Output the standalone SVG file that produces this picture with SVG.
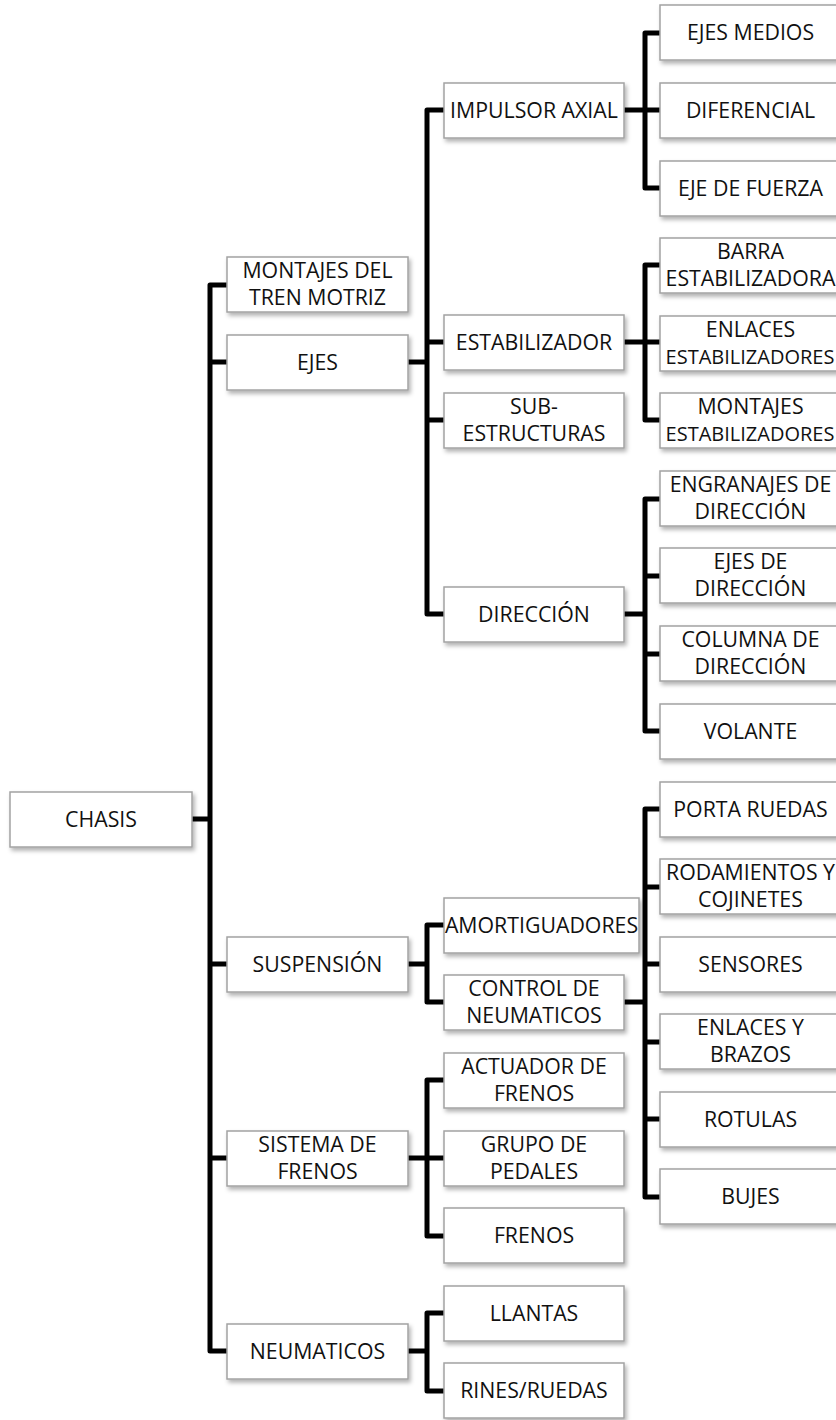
<svg xmlns="http://www.w3.org/2000/svg" width="836" height="1420" viewBox="0 0 836 1420">
<style>
.bx{fill:#fff;stroke:#a3a3a3;stroke-width:1.5;filter:url(#sh)}
.t{font-family:"Open Sans","Noto Sans",sans-serif;font-size:21.3px;fill:#111;text-anchor:middle}
.s{font-size:20px}
.c{fill:none;stroke:#000;stroke-width:5;stroke-linejoin:round}
</style>
<defs>
<filter id="sh" x="-10%" y="-20%" width="130%" height="160%">
<feDropShadow dx="2" dy="3" stdDeviation="2" flood-color="#000" flood-opacity="0.3"/>
</filter>
</defs>
<rect width="836" height="1420" fill="#fff"/>
<g id="connectors">
<path class="c" d="M192,819 H210"/>
<path class="c" d="M227,285 H210 V1351 H227"/>
<path class="c" d="M210,362 H227 M210,964 H227 M210,1158 H227"/>
<path class="c" d="M408,362 H427"/>
<path class="c" d="M444,110 H427 V614 H444 M427,342 H444 M427,420 H444"/>
<path class="c" d="M408,964 H427"/>
<path class="c" d="M444,925 H427 V1002 H444"/>
<path class="c" d="M408,1158 H427"/>
<path class="c" d="M444,1080 H427 V1236 H444 M427,1158 H444"/>
<path class="c" d="M408,1351 H427"/>
<path class="c" d="M444,1313 H427 V1391 H444"/>
<path class="c" d="M624,110 H645"/>
<path class="c" d="M660,33 H645 V188 H660 M645,110 H660"/>
<path class="c" d="M624,342 H645"/>
<path class="c" d="M660,265 H645 V420 H660 M645,342 H660"/>
<path class="c" d="M624,614 H645"/>
<path class="c" d="M660,499 H645 V731 H660 M645,576 H660 M645,654 H660"/>
<path class="c" d="M624,1002 H645"/>
<path class="c" d="M660,809 H645 V1197 H660 M645,887 H660 M645,964 H660 M645,1042 H660 M645,1119 H660"/>
</g>
<g id="chasis"><rect class="bx" x="10" y="792" width="182" height="55"/><text class="t" x="101" y="826.5">CHASIS</text></g>
<g id="montajes-tren"><rect class="bx" x="227" y="257" width="181" height="55"/><text class="t" x="317.5" y="278">MONTAJES DEL</text><text class="t" x="317.5" y="304.5">TREN MOTRIZ</text></g>
<g id="ejes"><rect class="bx" x="227" y="335" width="181" height="55"/><text class="t" x="317.5" y="370">EJES</text></g>
<g id="suspension"><rect class="bx" x="227" y="937" width="181" height="55"/><text class="t" x="317.5" y="972">SUSPENSIÓN</text></g>
<g id="sistema-frenos"><rect class="bx" x="227" y="1131" width="181" height="55"/><text class="t" x="317.5" y="1152">SISTEMA DE</text><text class="t" x="317.5" y="1178.5">FRENOS</text></g>
<g id="neumaticos"><rect class="bx" x="227" y="1324" width="181" height="55"/><text class="t" x="317.5" y="1359">NEUMATICOS</text></g>
<g id="impulsor-axial"><rect class="bx" x="444" y="83" width="180" height="55"/><text class="t" x="534" y="118">IMPULSOR AXIAL</text></g>
<g id="estabilizador"><rect class="bx" x="444" y="315" width="180" height="55"/><text class="t" x="534" y="350">ESTABILIZADOR</text></g>
<g id="subestructuras"><rect class="bx" x="444" y="393" width="180" height="55"/><text class="t" x="534" y="414">SUB-</text><text class="t" x="534" y="440.5">ESTRUCTURAS</text></g>
<g id="direccion"><rect class="bx" x="444" y="587" width="180" height="55"/><text class="t" x="534" y="622">DIRECCIÓN</text></g>
<g id="amortiguadores"><rect class="bx" x="444" y="898" width="195" height="55"/><text class="t" x="541.5" y="933">AMORTIGUADORES</text></g>
<g id="control-neumaticos"><rect class="bx" x="444" y="975" width="180" height="55"/><text class="t" x="534" y="996">CONTROL DE</text><text class="t" x="534" y="1022.5">NEUMATICOS</text></g>
<g id="actuador-frenos"><rect class="bx" x="444" y="1053" width="180" height="55"/><text class="t" x="534" y="1074">ACTUADOR DE</text><text class="t" x="534" y="1100.5">FRENOS</text></g>
<g id="grupo-pedales"><rect class="bx" x="444" y="1131" width="180" height="55"/><text class="t" x="534" y="1152">GRUPO DE</text><text class="t" x="534" y="1178.5">PEDALES</text></g>
<g id="frenos"><rect class="bx" x="444" y="1208" width="180" height="55"/><text class="t" x="534" y="1243">FRENOS</text></g>
<g id="llantas"><rect class="bx" x="444" y="1286" width="180" height="55"/><text class="t" x="534" y="1321">LLANTAS</text></g>
<g id="rines-ruedas"><rect class="bx" x="444" y="1363" width="180" height="55"/><text class="t" x="534" y="1398">RINES/RUEDAS</text></g>
<g id="ejes-medios"><rect class="bx" x="660" y="5" width="181" height="55"/><text class="t" x="750.5" y="40">EJES MEDIOS</text></g>
<g id="diferencial"><rect class="bx" x="660" y="83" width="181" height="55"/><text class="t" x="750.5" y="118">DIFERENCIAL</text></g>
<g id="eje-fuerza"><rect class="bx" x="660" y="161" width="181" height="55"/><text class="t" x="750.5" y="196">EJE DE FUERZA</text></g>
<g id="barra-estabilizadora"><rect class="bx" x="660" y="238" width="181" height="55"/><text class="t" x="750.5" y="259">BARRA</text><text class="t" x="750.5" y="285.5">ESTABILIZADORA</text></g>
<g id="enlaces-estabilizadores"><rect class="bx" x="660" y="316" width="181" height="55"/><text class="t" x="750.5" y="337">ENLACES</text><text class="t s" x="750" y="363.5">ESTABILIZADORES</text></g>
<g id="montajes-estabilizadores"><rect class="bx" x="660" y="393" width="181" height="55"/><text class="t" x="750.5" y="414">MONTAJES</text><text class="t s" x="750" y="440.5">ESTABILIZADORES</text></g>
<g id="engranajes-direccion"><rect class="bx" x="660" y="471" width="181" height="55"/><text class="t" x="750.5" y="492">ENGRANAJES DE</text><text class="t" x="750.5" y="518.5">DIRECCIÓN</text></g>
<g id="ejes-direccion"><rect class="bx" x="660" y="548" width="181" height="55"/><text class="t" x="750.5" y="569">EJES DE</text><text class="t" x="750.5" y="595.5">DIRECCIÓN</text></g>
<g id="columna-direccion"><rect class="bx" x="660" y="626" width="181" height="55"/><text class="t" x="750.5" y="647">COLUMNA DE</text><text class="t" x="750.5" y="673.5">DIRECCIÓN</text></g>
<g id="volante"><rect class="bx" x="660" y="704" width="181" height="55"/><text class="t" x="750.5" y="739">VOLANTE</text></g>
<g id="porta-ruedas"><rect class="bx" x="660" y="782" width="181" height="55"/><text class="t" x="750.5" y="817">PORTA RUEDAS</text></g>
<g id="rodamientos"><rect class="bx" x="660" y="859" width="181" height="55"/><text class="t" x="750.5" y="880">RODAMIENTOS Y</text><text class="t" x="750.5" y="906.5">COJINETES</text></g>
<g id="sensores"><rect class="bx" x="660" y="937" width="181" height="55"/><text class="t" x="750.5" y="972">SENSORES</text></g>
<g id="enlaces-brazos"><rect class="bx" x="660" y="1014" width="181" height="55"/><text class="t" x="750.5" y="1035">ENLACES Y</text><text class="t" x="750.5" y="1061.5">BRAZOS</text></g>
<g id="rotulas"><rect class="bx" x="660" y="1092" width="181" height="55"/><text class="t" x="750.5" y="1127">ROTULAS</text></g>
<g id="bujes"><rect class="bx" x="660" y="1169" width="181" height="55"/><text class="t" x="750.5" y="1204">BUJES</text></g>
</svg>
